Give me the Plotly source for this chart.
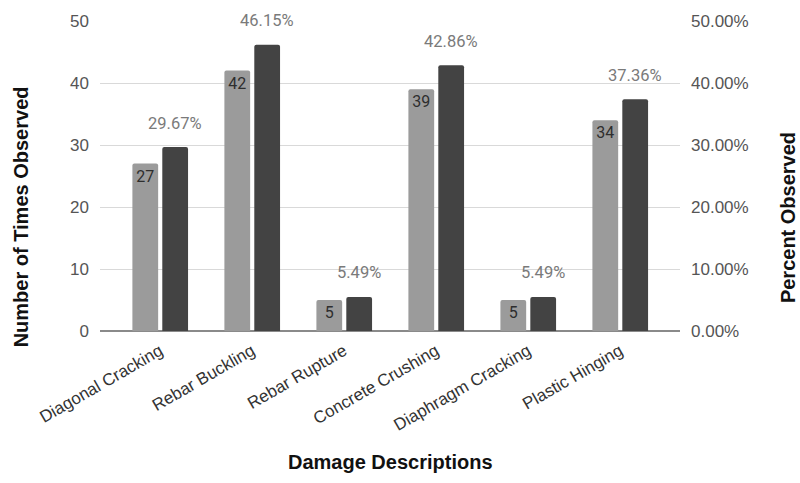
import plotly.graph_objects as go

categories = ["Diagonal Cracking", "Rebar Buckling", "Rebar Rupture",
              "Concrete Crushing", "Diaphragm Cracking", "Plastic Hinging"]
times_observed = [27, 42, 5, 39, 5, 34]
percent_observed = [29.67, 46.15, 5.49, 42.86, 5.49, 37.36]
left_ticks = [0, 10, 20, 30, 40, 50]
right_tick_labels = ["0.00%", "10.00%", "20.00%", "30.00%", "40.00%", "50.00%"]

x_idx = list(range(len(categories)))
BAR_W = 0.28
OFF_COUNT = -0.30
OFF_PCT = 0.025

fig = go.Figure()
fig.add_trace(go.Bar(
    x=x_idx, y=times_observed, yaxis="y",
    width=BAR_W, offset=OFF_COUNT,
    marker=dict(color="#9b9b9b", line=dict(width=0)),
    text=[str(v) for v in times_observed],
    textposition="inside", insidetextanchor="end",
    textfont=dict(family="Roboto", size=16, color="#2e2e2e"),
    textangle=0, cliponaxis=False, showlegend=False,
))
fig.add_trace(go.Bar(
    x=x_idx, y=percent_observed, yaxis="y2",
    width=BAR_W, offset=OFF_PCT,
    marker=dict(color="#434343", line=dict(width=0)),
    showlegend=False,
))

# percentage labels floating above the dark bars
for i, v in enumerate(percent_observed):
    fig.add_annotation(
        x=i + OFF_PCT + BAR_W / 2, y=v, xref="x", yref="y2",
        text=f"{v:.2f}%", showarrow=False, yshift=24,
        font=dict(family="Roboto", size=16.5, color="#7a7a7a"),
    )

axis_title_font = dict(family="Liberation Sans", size=20, color="#111111")
title_common = dict(xref="paper", yref="paper", showarrow=False,
                    xanchor="center", yanchor="middle", font=axis_title_font)
fig.add_annotation(x=-0.136, y=0.367, text="<b>Number of Times Observed</b>",
                   textangle=-90, **title_common)
fig.add_annotation(x=1.186, y=0.367, text="<b>Percent Observed</b>",
                   textangle=-90, **title_common)
fig.add_annotation(x=0.5, y=-0.422, text="<b>Damage Descriptions</b>",
                   **title_common)

fig.update_layout(
    width=800, height=483,
    margin=dict(l=100, r=120, t=18, b=152),
    paper_bgcolor="white", plot_bgcolor="white",
    barcornerradius=2,
    xaxis=dict(
        tickmode="array", tickvals=x_idx, ticktext=categories,
        range=[-0.652, 5.652], tickangle=-30,
        tickfont=dict(family="Liberation Sans", size=17, color="#333333"),
        showgrid=False, zeroline=False, showline=False, ticks="",
        ticklabelstandoff=6,
    ),
    yaxis=dict(
        range=[0, 50], tickvals=left_ticks,
        tickfont=dict(family="Liberation Sans", size=17, color="#555555"),
        gridcolor="#d9d9d9", gridwidth=1, zeroline=True,
        zerolinecolor="#8a8a8a", zerolinewidth=2, ticks="", ticklabelstandoff=10,
    ),
    yaxis2=dict(
        overlaying="y", side="right", range=[0, 50],
        tickvals=left_ticks, ticktext=right_tick_labels,
        tickfont=dict(family="Liberation Sans", size=17, color="#555555"),
        showgrid=False, zeroline=False, ticks="", ticklabelstandoff=10,
    ),
)

fig.write_html("out.html")
